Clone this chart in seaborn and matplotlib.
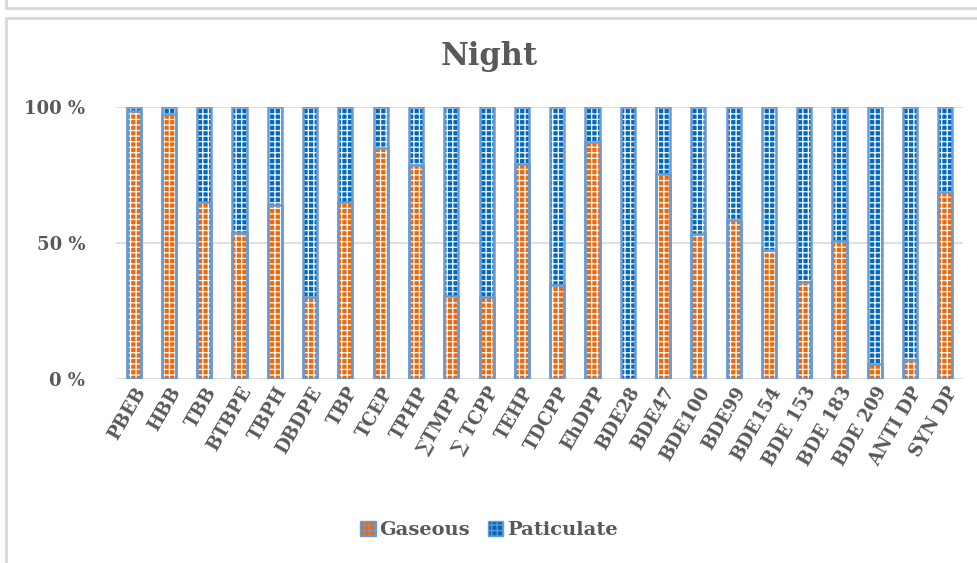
import pandas as pd
import seaborn as sns
import matplotlib.pyplot as plt
from matplotlib.patches import Patch, Rectangle
from matplotlib.lines import Line2D

compounds = ['PBEB', 'HBB', 'TBB', 'BTBPE', 'TBPH', 'DBDPE', 'TBP', 'TCEP', 'TPHP',
             '\u2211TMPP', '\u2211 TCPP', 'TEHP', 'TDCPP', 'EhDPP', 'BDE28', 'BDE47',
             'BDE100', 'BDE99', 'BDE154', 'BDE 153', 'BDE 183', 'BDE 209', 'ANTI DP', 'SYN DP']
gaseous = [98.5, 97.4, 65, 53.7, 64, 30, 65, 85, 78.7, 30.5, 30, 79, 34.5, 87, 0,
           75.4, 53.3, 58.5, 47.4, 35.7, 50.7, 5.5, 7, 68.8]
total = [100] * len(compounds)

orange = '#E86A10'
blue = '#0068BE'
outline = '#6A9BD3'

if __name__ == "__main__":
    sns.set_style("white")
    plt.rcParams['font.family'] = ['DejaVu Serif']
    plt.rcParams['hatch.linewidth'] = 0.9

    df = pd.DataFrame({'compound': compounds, 'gaseous': gaseous, 'total': total})

    fig = plt.figure(figsize=(9.78, 5.63), dpi=100)
    ax = fig.add_axes([0.1186, 0.3268, 0.8661, 0.4832])

    # particulate share = full bar, gaseous drawn over it
    sns.barplot(data=df, x='compound', y='total', color=blue, width=0.4,
                edgecolor='white', linewidth=0, hatch='+++', saturation=1, ax=ax)
    sns.barplot(data=df, x='compound', y='gaseous', color=orange, width=0.4,
                edgecolor='white', linewidth=0, hatch='+++', saturation=1, ax=ax)
    # light blue outline of every segment
    for p in list(ax.patches):
        ax.add_patch(Rectangle(p.get_xy(), p.get_width(), p.get_height(),
                               fill=False, edgecolor=outline, linewidth=1.8, zorder=3))

    ax.set_xlim(-0.5, len(compounds) - 0.5)
    ax.set_ylim(0, 100)
    ax.set_yticks([0, 50, 100])
    ax.set_yticklabels(['0 %', '50 %', '100 %'])
    ax.yaxis.grid(True, color='#D9D9D9', linewidth=1.2)
    ax.set_axisbelow(True)
    sns.despine(ax=ax, left=True, top=True, right=True, bottom=True)
    ax.tick_params(axis='both', length=0, colors='#595959', labelsize=13)
    ax.tick_params(axis='y', pad=22)
    for lab in ax.get_yticklabels():
        lab.set_fontweight('bold')
    plt.setp(ax.get_xticklabels(), rotation=60, ha='right', rotation_mode='anchor',
             fontweight='bold', fontsize=13)
    ax.set_xlabel('')
    ax.set_ylabel('')

    fig.text(0.5, 0.9, 'Night', ha='center', va='center', fontsize=22,
             fontweight='bold', color='#595959')

    handles = [Patch(facecolor=orange, edgecolor=outline, hatch='+++', label='Gaseous'),
               Patch(facecolor=blue, edgecolor=outline, hatch='+++', label='Paticulate')]
    leg = fig.legend(handles=handles, loc='center', bbox_to_anchor=(0.5, 0.059), ncol=2,
                     frameon=False, handlelength=0.8, handleheight=0.8, handletextpad=0.2,
                     columnspacing=0.9, prop={'weight': 'bold', 'size': 14})
    for t in leg.get_texts():
        t.set_color('#595959')

    # chart frame
    fig.add_artist(Line2D([0.006, 0.006], [0.0, 0.968], color='#D9D9D9', linewidth=2,
                          transform=fig.transFigure))
    fig.add_artist(Line2D([0.006, 1.0], [0.968, 0.968], color='#D9D9D9', linewidth=2,
                          transform=fig.transFigure))
    fig.add_artist(Line2D([0.006, 1.0], [0.985, 0.985], color='#D9D9D9', linewidth=2,
                          transform=fig.transFigure))
    fig.add_artist(Line2D([0.006, 0.006], [0.985, 1.0], color='#D9D9D9', linewidth=2,
                          transform=fig.transFigure))

    fig.savefig("out.png", dpi=100)
    plt.close()
